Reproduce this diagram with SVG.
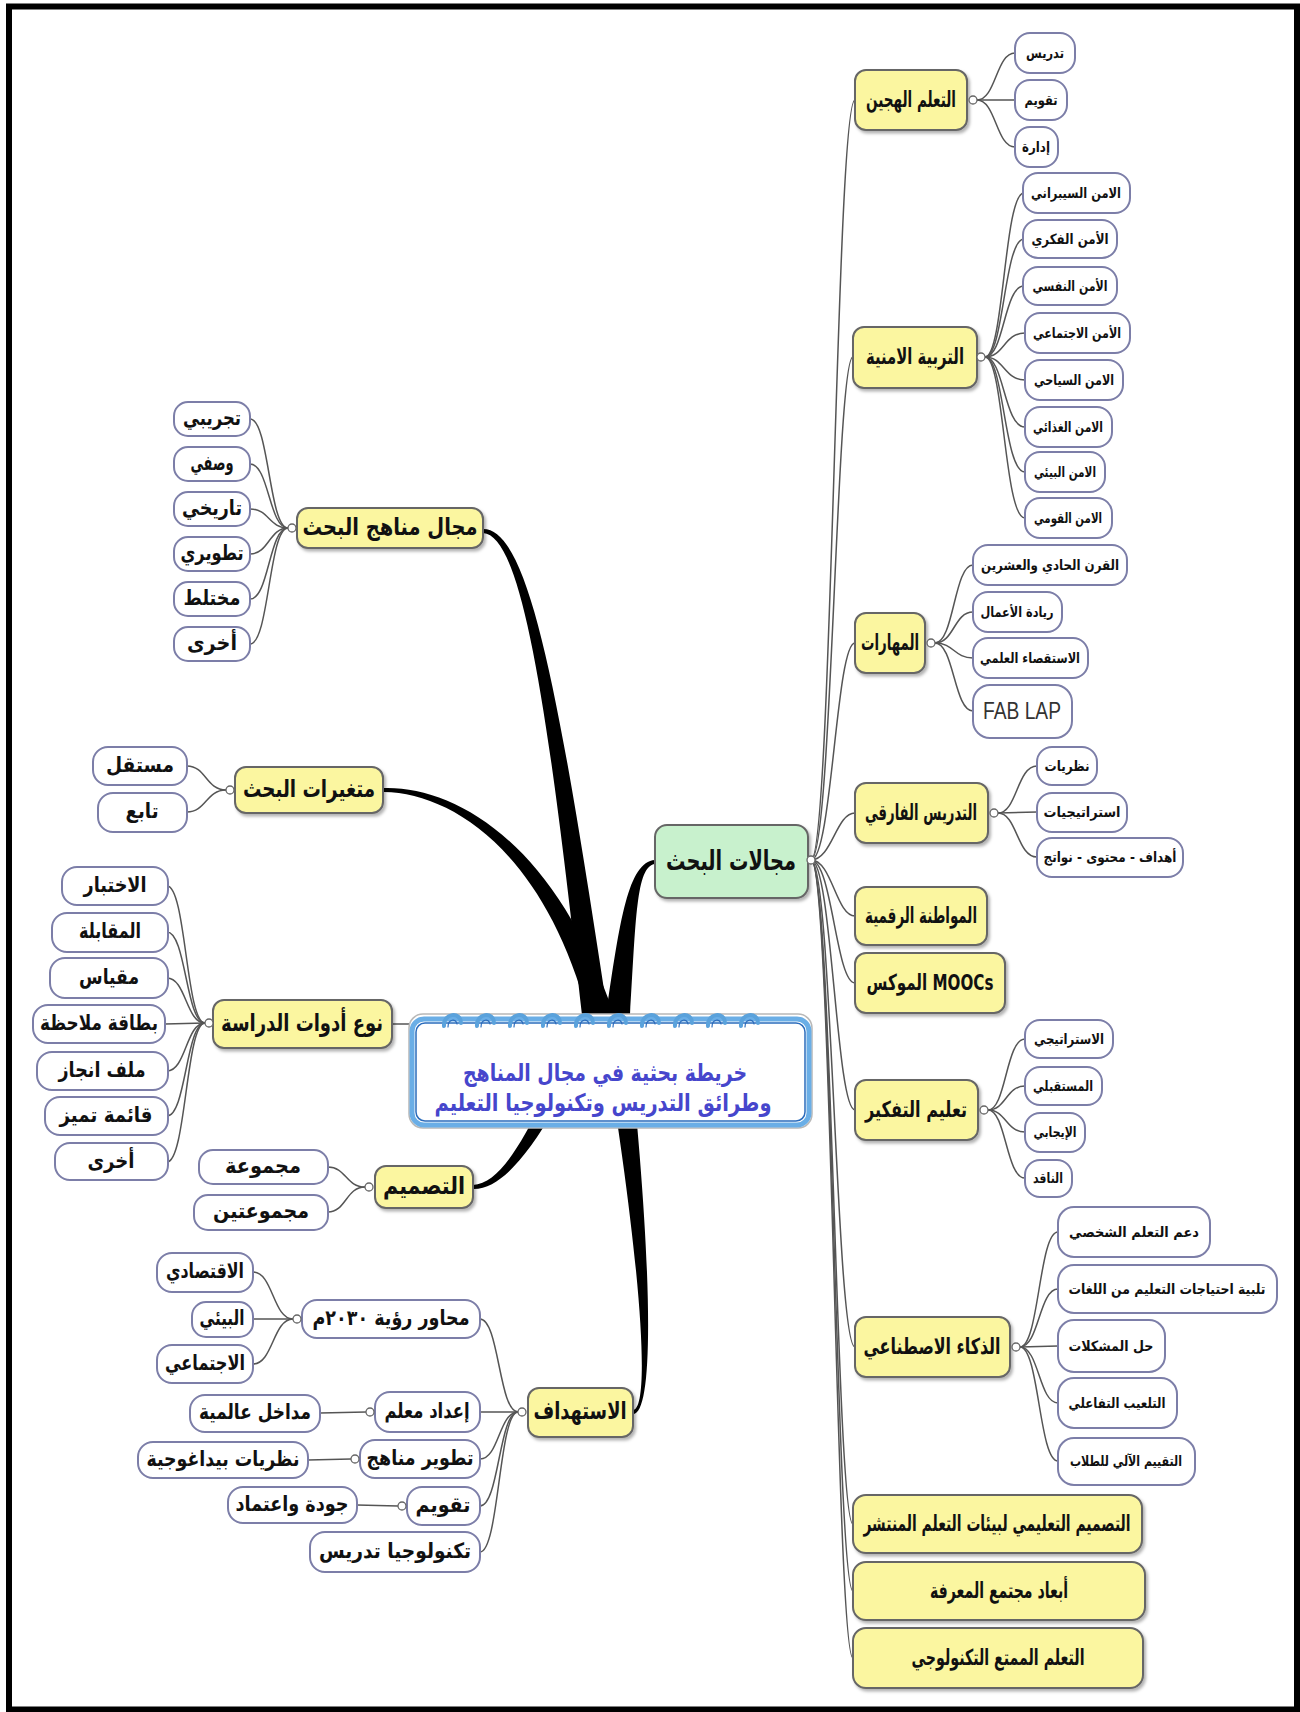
<svg xmlns="http://www.w3.org/2000/svg" width="1300" height="1712" viewBox="0 0 1300 1712">
<defs>
<style>
.y{fill:#fbf6a0;stroke:#666;stroke-width:2}
.g{fill:#c8f1cd;stroke:#666;stroke-width:2}
.c{fill:#fff;stroke:#7c7ea8;stroke-width:2}
.k{fill:#fff;stroke:#666;stroke-width:1.3}
.ln{fill:none;stroke:#555;stroke-width:1.5}
.th{fill:#000;stroke:none}
text{font-family:"DejaVu Sans",sans-serif;font-weight:bold;fill:#111;text-anchor:middle;dominant-baseline:central}
.t1{font-size:22px}
.tl{font-size:24px}
.t2{font-size:14px}
.t3{font-size:21px}
.tg{font-size:27px}
.tt{font-size:24px;fill:#4646cc}
.ring{fill:none;stroke:#5aa2dc;stroke-width:4;stroke-linecap:round}
.ring2{fill:none;stroke:#2b6cbc;stroke-width:1.2;stroke-linecap:round}
</style>
<filter id="sh" x="-10%" y="-10%" width="130%" height="140%">
<feDropShadow dx="2" dy="2.5" stdDeviation="1.5" flood-color="#000" flood-opacity="0.3"/>
</filter>
</defs>
<rect x="0" y="0" width="1300" height="1712" fill="#fff"/>
<rect x="9" y="6.5" width="1288" height="1703" fill="none" stroke="#000" stroke-width="6"/>

<g id="connectors">
<path class="th" d="M483,529 C530,528 560,700 608,1015 L582,1015 C548,705 522,535 483,533 Z"/>
<path class="th" d="M384,788 C455,786 556,843 614,1015 L588,1015 C545,852 452,793 384,792 Z"/>
<path class="th" d="M655,860 C628,862 620,920 606,1015 L630,1015 C636,920 636,866 655,864 Z"/>
<path class="th" d="M633,1410 C652,1408 640,1250 600,1013 L626,1013 C652,1250 656,1414 633,1414 Z"/>
<path class="th" d="M473,1185 C510,1184 542,1100 585,1013 L607,1013 C556,1110 515,1190 473,1189 Z"/>
<path class="ln" d="M811,860 C832,860 836,100 855,100"/>
<path class="ln" d="M811,860 C832,860 836,357 853,357"/>
<path class="ln" d="M811,860 C832,860 836,643 855,643"/>
<path class="ln" d="M811,860 C832,860 836,813 855,813"/>
<path class="ln" d="M811,860 C832,860 836,916 855,916"/>
<path class="ln" d="M811,860 C832,860 836,983 855,983"/>
<path class="ln" d="M811,860 C832,860 836,1110 855,1110"/>
<path class="ln" d="M811,860 C832,860 836,1347 855,1347"/>
<path class="ln" d="M811,860 C832,860 836,1524 853,1524"/>
<path class="ln" d="M811,860 C832,860 836,1591 853,1591"/>
<path class="ln" d="M811,860 C832,860 836,1658 853,1658"/>
<path class="ln" d="M977,100 C996,100 996,53 1015,53"/>
<path class="ln" d="M977,100 L1015,100"/>
<path class="ln" d="M977,100 C996,100 996,147 1015,147"/>
<path class="ln" d="M985,357 C1004,357 1004,193 1024,193"/>
<path class="ln" d="M985,357 C1004,357 1004,239 1024,239"/>
<path class="ln" d="M985,357 C1004,357 1004,286 1024,286"/>
<path class="ln" d="M985,357 C1004,357 1004,333 1025,333"/>
<path class="ln" d="M985,357 C1004,357 1004,380 1025,380"/>
<path class="ln" d="M985,357 C1004,357 1004,427 1025,427"/>
<path class="ln" d="M985,357 C1004,357 1004,472 1025,472"/>
<path class="ln" d="M985,357 C1004,357 1004,518 1025,518"/>
<path class="ln" d="M935,643 C954,643 954,565 973,565"/>
<path class="ln" d="M935,643 C954,643 954,612 973,612"/>
<path class="ln" d="M935,643 C954,643 954,658 973,658"/>
<path class="ln" d="M935,643 C954,643 954,711 973,711"/>
<path class="ln" d="M998,813 C1017,813 1017,766 1037,766"/>
<path class="ln" d="M998,813 L1037,812"/>
<path class="ln" d="M998,813 C1017,813 1017,857 1037,857"/>
<path class="ln" d="M988,1110 C1006,1110 1006,1039 1025,1039"/>
<path class="ln" d="M988,1110 C1006,1110 1006,1086 1025,1086"/>
<path class="ln" d="M988,1110 C1006,1110 1006,1132 1025,1132"/>
<path class="ln" d="M988,1110 C1006,1110 1006,1178 1025,1178"/>
<path class="ln" d="M1020,1347 C1039,1347 1039,1232 1058,1232"/>
<path class="ln" d="M1020,1347 C1039,1347 1039,1289 1058,1289"/>
<path class="ln" d="M1020,1347 L1058,1346"/>
<path class="ln" d="M1020,1347 C1039,1347 1039,1403 1058,1403"/>
<path class="ln" d="M1020,1347 C1039,1347 1039,1461 1058,1461"/>
<path class="ln" d="M288,528 C269,528 269,419 250,419"/>
<path class="ln" d="M288,528 C269,528 269,464 250,464"/>
<path class="ln" d="M288,528 C269,528 269,509 250,509"/>
<path class="ln" d="M288,528 C269,528 269,554 250,554"/>
<path class="ln" d="M288,528 C269,528 269,599 250,599"/>
<path class="ln" d="M288,528 C269,528 269,644 250,644"/>
<path class="ln" d="M226,790 C206,790 206,766 187,766"/>
<path class="ln" d="M226,790 C206,790 206,812 187,812"/>
<path class="ln" d="M392,1024 L410,1024"/>
<path class="ln" d="M205,1023 C186,1023 186,886 167,886"/>
<path class="ln" d="M205,1023 C186,1023 186,932 167,932"/>
<path class="ln" d="M205,1023 C186,1023 186,978 167,978"/>
<path class="ln" d="M205,1023 L165,1024"/>
<path class="ln" d="M205,1023 C186,1023 186,1071 167,1071"/>
<path class="ln" d="M205,1023 C186,1023 186,1116 167,1116"/>
<path class="ln" d="M205,1023 C186,1023 186,1162 167,1162"/>
<path class="ln" d="M365,1187 C346,1187 346,1167 328,1167"/>
<path class="ln" d="M365,1187 C346,1187 346,1212 328,1212"/>
<path class="ln" d="M518,1412 C499,1412 499,1319 480,1319"/>
<path class="ln" d="M518,1412 L480,1412"/>
<path class="ln" d="M518,1412 C499,1412 499,1459 480,1459"/>
<path class="ln" d="M518,1412 C499,1412 499,1506 480,1506"/>
<path class="ln" d="M518,1412 C499,1412 499,1552 480,1552"/>
<path class="ln" d="M293,1319 C273,1319 273,1272 253,1272"/>
<path class="ln" d="M293,1319 L253,1319"/>
<path class="ln" d="M293,1319 C273,1319 273,1364 253,1364"/>
<path class="ln" d="M366,1412 L320,1413"/>
<path class="ln" d="M351,1459 L308,1460"/>
<path class="ln" d="M398,1506 L357,1505"/>
</g>

<g id="title">
<rect x="409" y="1014" width="403" height="114" rx="14" fill="#fff" stroke="#b8b8b8" stroke-width="1.5"/>
<rect x="412" y="1019" width="397" height="106" rx="12" fill="#fff" stroke="#6aaee6" stroke-width="5"/>
<rect x="416" y="1023" width="389" height="98" rx="9" fill="none" stroke="#2b6cbc" stroke-width="1.5"/>
<g>
<path class="ring" d="M444,1026 C443,1013 461,1011 461,1023"/><path class="ring2" d="M448,1027 C448,1019 456,1018 457,1024"/>
<path class="ring" d="M477,1026 C476,1013 494,1011 494,1023"/><path class="ring2" d="M481,1027 C481,1019 489,1018 490,1024"/>
<path class="ring" d="M510,1026 C509,1013 527,1011 527,1023"/><path class="ring2" d="M514,1027 C514,1019 522,1018 523,1024"/>
<path class="ring" d="M543,1026 C542,1013 560,1011 560,1023"/><path class="ring2" d="M547,1027 C547,1019 555,1018 556,1024"/>
<path class="ring" d="M576,1026 C575,1013 593,1011 593,1023"/><path class="ring2" d="M580,1027 C580,1019 588,1018 589,1024"/>
<path class="ring" d="M609,1026 C608,1013 626,1011 626,1023"/><path class="ring2" d="M613,1027 C613,1019 621,1018 622,1024"/>
<path class="ring" d="M642,1026 C641,1013 659,1011 659,1023"/><path class="ring2" d="M646,1027 C646,1019 654,1018 655,1024"/>
<path class="ring" d="M675,1026 C674,1013 692,1011 692,1023"/><path class="ring2" d="M679,1027 C679,1019 687,1018 688,1024"/>
<path class="ring" d="M708,1026 C707,1013 725,1011 725,1023"/><path class="ring2" d="M712,1027 C712,1019 720,1018 721,1024"/>
<path class="ring" d="M741,1026 C740,1013 758,1011 758,1023"/><path class="ring2" d="M745,1027 C745,1019 753,1018 754,1024"/>
</g>
<text class="tt" x="605" y="1073" textLength="284" lengthAdjust="spacingAndGlyphs">خريطة بحثية في مجال المناهج</text>
<text class="tt" x="603" y="1103" textLength="337" lengthAdjust="spacingAndGlyphs">وطرائق التدريس وتكنولوجيا التعليم</text>
</g>

<g id="n-majalat"><rect class="g" filter="url(#sh)" x="655" y="825" width="153" height="73" rx="12"/><text class="tg" x="731" y="860" textLength="130" lengthAdjust="spacingAndGlyphs">مجالات البحث</text><circle class="k" cx="811" cy="860" r="4"/></g>

<g id="n-hybrid"><rect class="y" filter="url(#sh)" x="855" y="70" width="112" height="60" rx="11"/><text class="t1" x="911" y="99" textLength="90" lengthAdjust="spacingAndGlyphs">التعلم الهجين</text><circle class="k" cx="973" cy="100" r="4"/></g>
<g id="n-security"><rect class="y" filter="url(#sh)" x="853" y="327" width="124" height="61" rx="11"/><text class="t1" x="915" y="356" textLength="98" lengthAdjust="spacingAndGlyphs">التربية الامنية</text><circle class="k" cx="981" cy="357" r="4"/></g>
<g id="n-skills"><rect class="y" filter="url(#sh)" x="855" y="613" width="70" height="60" rx="11"/><text class="t1" x="890" y="642" textLength="58" lengthAdjust="spacingAndGlyphs">المهارات</text><circle class="k" cx="931" cy="643" r="4"/></g>
<g id="n-diff"><rect class="y" filter="url(#sh)" x="855" y="783" width="133" height="60" rx="11"/><text class="t1" x="921" y="812" textLength="112" lengthAdjust="spacingAndGlyphs">التدريس الفارقي</text><circle class="k" cx="994" cy="813" r="4"/></g>
<g id="n-citizen"><rect class="y" filter="url(#sh)" x="855" y="887" width="132" height="58" rx="11"/><text class="t1" x="921" y="915" textLength="112" lengthAdjust="spacingAndGlyphs">المواطنة الرقمية</text></g>
<g id="n-moocs"><rect class="y" filter="url(#sh)" x="855" y="953" width="150" height="60" rx="11"/><text class="t1" x="930" y="982" direction="rtl" textLength="127" lengthAdjust="spacingAndGlyphs">MOOCs الموكس</text></g>
<g id="n-thinking"><rect class="y" filter="url(#sh)" x="855" y="1080" width="123" height="60" rx="11"/><text class="t1" x="916" y="1109" textLength="102" lengthAdjust="spacingAndGlyphs">تعليم التفكير</text><circle class="k" cx="984" cy="1110" r="4"/></g>
<g id="n-ai"><rect class="y" filter="url(#sh)" x="855" y="1317" width="155" height="60" rx="11"/><text class="t1" x="932" y="1346" textLength="137" lengthAdjust="spacingAndGlyphs">الذكاء الاصطناعي</text><circle class="k" cx="1016" cy="1347" r="4"/></g>
<g id="n-design-env"><rect class="y" filter="url(#sh)" x="853" y="1495" width="289" height="58" rx="13"/><text class="t1" x="997" y="1523" textLength="267" lengthAdjust="spacingAndGlyphs">التصميم التعليمي لبيئات التعلم المنتشر</text></g>
<g id="n-knowledge"><rect class="y" filter="url(#sh)" x="853" y="1562" width="292" height="58" rx="13"/><text class="t1" x="999" y="1590" textLength="138" lengthAdjust="spacingAndGlyphs">أبعاد مجتمع المعرفة</text></g>
<g id="n-fun"><rect class="y" filter="url(#sh)" x="853" y="1628" width="290" height="60" rx="13"/><text class="t1" x="998" y="1657" textLength="173" lengthAdjust="spacingAndGlyphs">التعلم الممتع التكنولوجي</text></g>

<g id="c-h1"><rect class="c" x="1015" y="33" width="60" height="40" rx="15"/><text class="t2" x="1045" y="53" textLength="38" lengthAdjust="spacingAndGlyphs">تدريس</text></g>
<g id="c-h2"><rect class="c" x="1015" y="80" width="52" height="40" rx="15"/><text class="t2" x="1041" y="100" textLength="33" lengthAdjust="spacingAndGlyphs">تقويم</text></g>
<g id="c-h3"><rect class="c" x="1015" y="127" width="43" height="40" rx="15"/><text class="t2" x="1036" y="147" textLength="28" lengthAdjust="spacingAndGlyphs">إدارة</text></g>

<g id="c-s1"><rect class="c" x="1023" y="173" width="107" height="40" rx="15"/><text class="t2" x="1076" y="193" textLength="90" lengthAdjust="spacingAndGlyphs">الامن السيبراني</text></g>
<g id="c-s2"><rect class="c" x="1023" y="220" width="94" height="38" rx="15"/><text class="t2" x="1070" y="239" textLength="77" lengthAdjust="spacingAndGlyphs">الأمن الفكري</text></g>
<g id="c-s3"><rect class="c" x="1023" y="267" width="94" height="38" rx="15"/><text class="t2" x="1070" y="286" textLength="75" lengthAdjust="spacingAndGlyphs">الأمن النفسي</text></g>
<g id="c-s4"><rect class="c" x="1025" y="313" width="105" height="40" rx="15"/><text class="t2" x="1077" y="333" textLength="88" lengthAdjust="spacingAndGlyphs">الأمن الاجتماعي</text></g>
<g id="c-s5"><rect class="c" x="1025" y="360" width="98" height="40" rx="15"/><text class="t2" x="1074" y="380" textLength="80" lengthAdjust="spacingAndGlyphs">الامن السياحي</text></g>
<g id="c-s6"><rect class="c" x="1025" y="407" width="87" height="40" rx="15"/><text class="t2" x="1068" y="427" textLength="70" lengthAdjust="spacingAndGlyphs">الامن الغذائي</text></g>
<g id="c-s7"><rect class="c" x="1025" y="452" width="80" height="40" rx="15"/><text class="t2" x="1065" y="472" textLength="62" lengthAdjust="spacingAndGlyphs">الامن البيئي</text></g>
<g id="c-s8"><rect class="c" x="1025" y="498" width="87" height="40" rx="15"/><text class="t2" x="1068" y="518" textLength="68" lengthAdjust="spacingAndGlyphs">الامن القومي</text></g>

<g id="c-k1"><rect class="c" x="973" y="545" width="154" height="40" rx="15"/><text class="t2" x="1050" y="565" textLength="138" lengthAdjust="spacingAndGlyphs">القرن الحادي والعشرين</text></g>
<g id="c-k2"><rect class="c" x="973" y="592" width="89" height="40" rx="15"/><text class="t2" x="1017" y="612" textLength="73" lengthAdjust="spacingAndGlyphs">ريادة الأعمال</text></g>
<g id="c-k3"><rect class="c" x="973" y="638" width="115" height="40" rx="15"/><text class="t2" x="1030" y="658" textLength="100" lengthAdjust="spacingAndGlyphs">الاستقصاء العلمي</text></g>
<g id="c-k4"><rect class="c" x="973" y="685" width="99" height="53" rx="17"/><text x="1022" y="711" textLength="78" lengthAdjust="spacingAndGlyphs" style="font-family:'Liberation Sans',sans-serif;font-size:23px;font-weight:normal;fill:#333">FAB LAP</text></g>

<g id="c-d1"><rect class="c" x="1037" y="747" width="60" height="38" rx="15"/><text class="t2" x="1067" y="766" textLength="45" lengthAdjust="spacingAndGlyphs">نظريات</text></g>
<g id="c-d2"><rect class="c" x="1037" y="793" width="90" height="39" rx="15"/><text class="t2" x="1082" y="812" textLength="77" lengthAdjust="spacingAndGlyphs">استراتيجيات</text></g>
<g id="c-d3"><rect class="c" x="1037" y="838" width="146" height="39" rx="15"/><text class="t2" x="1110" y="857" textLength="133" lengthAdjust="spacingAndGlyphs">أهداف - محتوى - نواتج</text></g>

<g id="c-t1"><rect class="c" x="1025" y="1020" width="88" height="38" rx="15"/><text class="t2" x="1069" y="1039" textLength="70" lengthAdjust="spacingAndGlyphs">الاستراتيجي</text></g>
<g id="c-t2"><rect class="c" x="1025" y="1067" width="77" height="38" rx="15"/><text class="t2" x="1063" y="1086" textLength="60" lengthAdjust="spacingAndGlyphs">المستقبلي</text></g>
<g id="c-t3"><rect class="c" x="1025" y="1113" width="60" height="39" rx="15"/><text class="t2" x="1055" y="1132" textLength="43" lengthAdjust="spacingAndGlyphs">الإيجابي</text></g>
<g id="c-t4"><rect class="c" x="1025" y="1160" width="47" height="37" rx="15"/><text class="t2" x="1048" y="1178" textLength="30" lengthAdjust="spacingAndGlyphs">الناقد</text></g>

<g id="c-a1"><rect class="c" x="1058" y="1207" width="152" height="50" rx="16"/><text class="t2" x="1134" y="1232" textLength="130" lengthAdjust="spacingAndGlyphs">دعم التعلم الشخصي</text></g>
<g id="c-a2"><rect class="c" x="1058" y="1265" width="219" height="48" rx="16"/><text class="t2" x="1167" y="1289" textLength="197" lengthAdjust="spacingAndGlyphs">تلبية احتياجات التعليم من اللغات</text></g>
<g id="c-a3"><rect class="c" x="1058" y="1320" width="107" height="52" rx="16"/><text class="t2" x="1111" y="1346" textLength="85" lengthAdjust="spacingAndGlyphs">حل المشكلات</text></g>
<g id="c-a4"><rect class="c" x="1058" y="1378" width="119" height="50" rx="16"/><text class="t2" x="1117" y="1403" textLength="97" lengthAdjust="spacingAndGlyphs">التلعيب التفاعلي</text></g>
<g id="c-a5"><rect class="c" x="1058" y="1438" width="137" height="47" rx="16"/><text class="t2" x="1126" y="1461" textLength="112" lengthAdjust="spacingAndGlyphs">التقييم الآلي للطلاب</text></g>

<g id="n-methods"><rect class="y" filter="url(#sh)" x="297" y="508" width="186" height="40" rx="11"/><text class="tl" x="390" y="527" textLength="175" lengthAdjust="spacingAndGlyphs">مجال مناهج البحث</text><circle class="k" cx="292" cy="528" r="4"/></g>
<g id="n-vars"><rect class="y" filter="url(#sh)" x="235" y="767" width="148" height="46" rx="11"/><text class="tl" x="309" y="789" textLength="132" lengthAdjust="spacingAndGlyphs">متغيرات البحث</text><circle class="k" cx="230" cy="790" r="4"/></g>
<g id="n-tools"><rect class="y" filter="url(#sh)" x="213" y="1000" width="179" height="48" rx="11"/><text class="tl" x="302" y="1023" textLength="162" lengthAdjust="spacingAndGlyphs">نوع أدوات الدراسة</text><circle class="k" cx="209" cy="1023" r="4"/></g>
<g id="n-design"><rect class="y" filter="url(#sh)" x="375" y="1166" width="98" height="42" rx="11"/><text class="tl" x="424" y="1186" textLength="82" lengthAdjust="spacingAndGlyphs">التصميم</text><circle class="k" cx="369" cy="1187" r="4"/></g>
<g id="n-target"><rect class="y" filter="url(#sh)" x="528" y="1388" width="105" height="49" rx="11"/><text class="tl" x="580" y="1411" textLength="93" lengthAdjust="spacingAndGlyphs">الاستهداف</text><circle class="k" cx="522" cy="1412" r="4"/></g>

<g id="c-m1"><rect class="c" x="174" y="402" width="76" height="34" rx="14"/><text class="t3" x="212" y="418" textLength="58" lengthAdjust="spacingAndGlyphs">تجريبي</text></g>
<g id="c-m2"><rect class="c" x="174" y="447" width="76" height="34" rx="14"/><text class="t3" x="212" y="463" textLength="43" lengthAdjust="spacingAndGlyphs">وصفي</text></g>
<g id="c-m3"><rect class="c" x="174" y="492" width="76" height="34" rx="14"/><text class="t3" x="212" y="508" textLength="60" lengthAdjust="spacingAndGlyphs">تاريخي</text></g>
<g id="c-m4"><rect class="c" x="174" y="537" width="76" height="34" rx="14"/><text class="t3" x="212" y="553" textLength="63" lengthAdjust="spacingAndGlyphs">تطويري</text></g>
<g id="c-m5"><rect class="c" x="174" y="582" width="76" height="34" rx="14"/><text class="t3" x="212" y="598" textLength="57" lengthAdjust="spacingAndGlyphs">مختلط</text></g>
<g id="c-m6"><rect class="c" x="174" y="627" width="76" height="34" rx="14"/><text class="t3" x="212" y="643" textLength="50" lengthAdjust="spacingAndGlyphs">أخرى</text></g>

<g id="c-v1"><rect class="c" x="93" y="747" width="94" height="38" rx="15"/><text class="t3" x="140" y="765" textLength="68" lengthAdjust="spacingAndGlyphs">مستقل</text></g>
<g id="c-v2"><rect class="c" x="98" y="793" width="89" height="39" rx="15"/><text class="t3" x="142" y="811" textLength="33" lengthAdjust="spacingAndGlyphs">تابع</text></g>

<g id="c-o1"><rect class="c" x="62" y="867" width="106" height="38" rx="15"/><text class="t3" x="115" y="885" textLength="63" lengthAdjust="spacingAndGlyphs">الاختبار</text></g>
<g id="c-o2"><rect class="c" x="52" y="913" width="116" height="39" rx="15"/><text class="t3" x="110" y="931" textLength="62" lengthAdjust="spacingAndGlyphs">المقابلة</text></g>
<g id="c-o3"><rect class="c" x="50" y="958" width="118" height="40" rx="15"/><text class="t3" x="109" y="977" textLength="60" lengthAdjust="spacingAndGlyphs">مقياس</text></g>
<g id="c-o4"><rect class="c" x="33" y="1005" width="132" height="38" rx="15"/><text class="t3" x="99" y="1023" textLength="118" lengthAdjust="spacingAndGlyphs">بطاقة ملاحظة</text></g>
<g id="c-o5"><rect class="c" x="37" y="1052" width="131" height="38" rx="15"/><text class="t3" x="102" y="1070" textLength="87" lengthAdjust="spacingAndGlyphs">ملف انجاز</text></g>
<g id="c-o6"><rect class="c" x="45" y="1097" width="123" height="38" rx="15"/><text class="t3" x="106" y="1115" textLength="93" lengthAdjust="spacingAndGlyphs">قائمة تميز</text></g>
<g id="c-o7"><rect class="c" x="55" y="1143" width="113" height="37" rx="15"/><text class="t3" x="111" y="1161" textLength="47" lengthAdjust="spacingAndGlyphs">أخرى</text></g>

<g id="c-g1"><rect class="c" x="199" y="1150" width="129" height="34" rx="14"/><text class="t3" x="263" y="1166" textLength="76" lengthAdjust="spacingAndGlyphs">مجموعة</text></g>
<g id="c-g2"><rect class="c" x="194" y="1195" width="134" height="35" rx="14"/><text class="t3" x="261" y="1211" textLength="96" lengthAdjust="spacingAndGlyphs">مجموعتين</text></g>

<g id="c-r"><rect class="c" x="302" y="1300" width="178" height="38" rx="15"/><text class="t3" x="391" y="1318" textLength="157" lengthAdjust="spacingAndGlyphs">محاور رؤية ٢٠٣٠م</text><circle class="k" cx="297" cy="1319" r="4"/></g>
<g id="c-r1"><rect class="c" x="157" y="1253" width="96" height="39" rx="15"/><text class="t3" x="205" y="1271" textLength="78" lengthAdjust="spacingAndGlyphs">الاقتصادي</text></g>
<g id="c-r2"><rect class="c" x="192" y="1302" width="61" height="35" rx="14"/><text class="t3" x="222" y="1318" textLength="45" lengthAdjust="spacingAndGlyphs">البيئي</text></g>
<g id="c-r3"><rect class="c" x="157" y="1345" width="96" height="38" rx="15"/><text class="t3" x="205" y="1363" textLength="80" lengthAdjust="spacingAndGlyphs">الاجتماعي</text></g>
<g id="c-e"><rect class="c" x="375" y="1392" width="105" height="40" rx="15"/><text class="t3" x="427" y="1411" textLength="85" lengthAdjust="spacingAndGlyphs">إعداد معلم</text><circle class="k" cx="370" cy="1412" r="4"/></g>
<g id="c-e1"><rect class="c" x="190" y="1395" width="130" height="37" rx="15"/><text class="t3" x="255" y="1412" textLength="112" lengthAdjust="spacingAndGlyphs">مداخل عالمية</text></g>
<g id="c-cd"><rect class="c" x="360" y="1440" width="120" height="38" rx="15"/><text class="t3" x="420" y="1458" textLength="107" lengthAdjust="spacingAndGlyphs">تطوير مناهج</text><circle class="k" cx="355" cy="1459" r="4"/></g>
<g id="c-cd1"><rect class="c" x="138" y="1442" width="170" height="36" rx="15"/><text class="t3" x="223" y="1459" textLength="153" lengthAdjust="spacingAndGlyphs">نظريات بيداغوجية</text></g>
<g id="c-ev"><rect class="c" x="407" y="1487" width="73" height="38" rx="15"/><text class="t3" x="443" y="1505" textLength="55" lengthAdjust="spacingAndGlyphs">تقويم</text><circle class="k" cx="402" cy="1506" r="4"/></g>
<g id="c-ev1"><rect class="c" x="228" y="1487" width="129" height="36" rx="15"/><text class="t3" x="292" y="1504" textLength="113" lengthAdjust="spacingAndGlyphs">جودة واعتماد</text></g>
<g id="c-tech"><rect class="c" x="310" y="1532" width="170" height="40" rx="15"/><text class="t3" x="395" y="1551" textLength="152" lengthAdjust="spacingAndGlyphs">تكنولوجيا تدريس</text></g>
</svg>
